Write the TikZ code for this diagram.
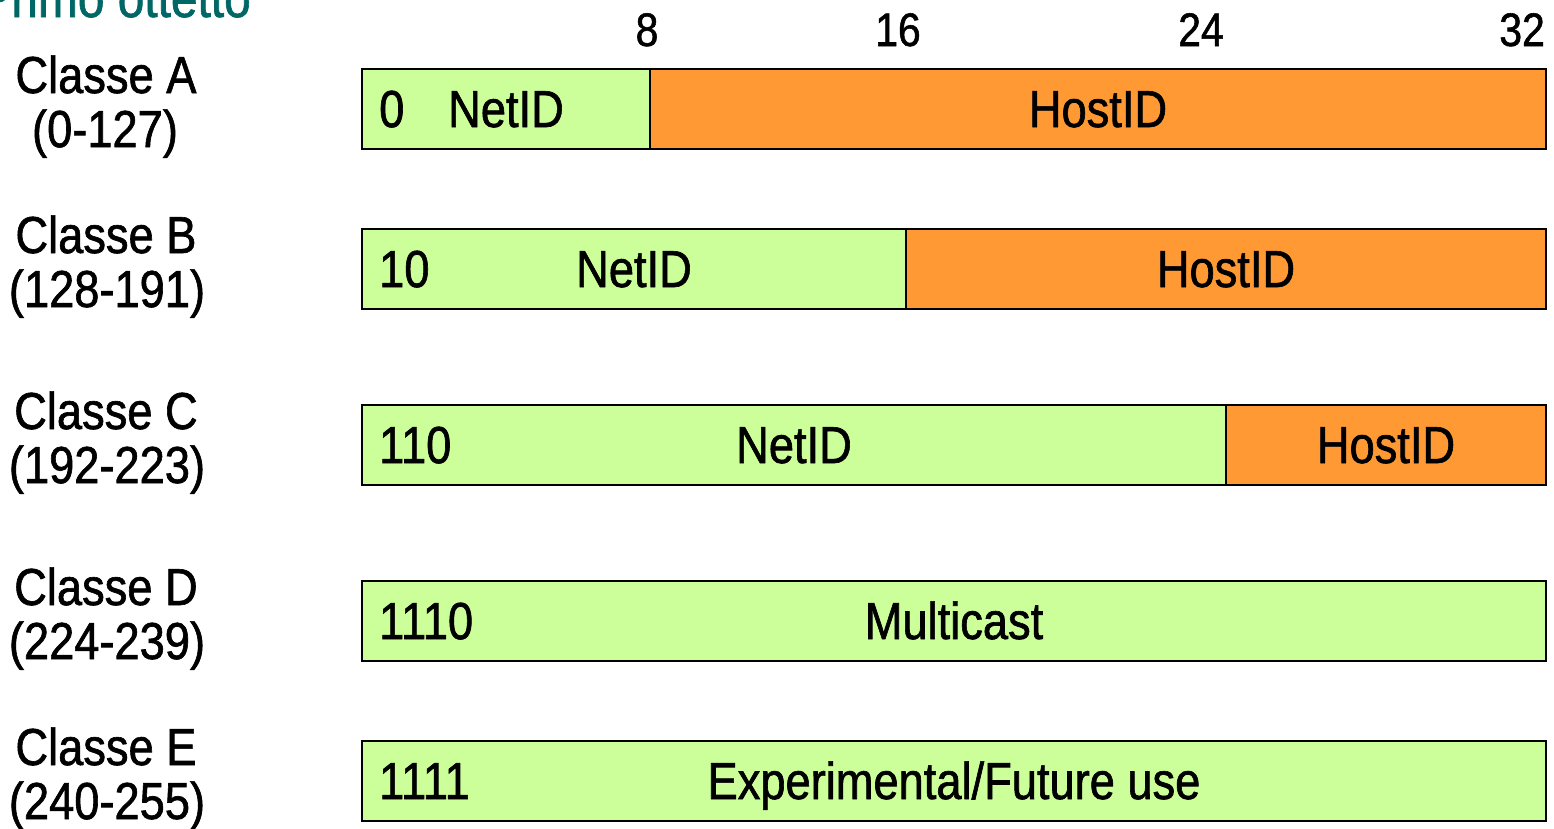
\documentclass[tikz,border=0pt]{standalone}
\usepackage{fontspec}
\setmainfont[FakeStretch=0.87,FakeBold=1.2]{Liberation Sans}
\definecolor{netgreen}{HTML}{CCFF99}
\definecolor{hostorange}{HTML}{FF9933}
\definecolor{titleteal}{HTML}{006666}
\begin{document}
\begin{tikzpicture}[x=1pt,y=-1pt,
  seg/.style={draw=black,line width=2pt,rectangle,inner sep=0pt,anchor=north west,minimum height=80pt},
  net/.style={seg,fill=netgreen},
  host/.style={seg,fill=hostorange},
  bartext/.style={font=\fontsize{52}{54}\selectfont,inner sep=0pt,anchor=base},
  lefttext/.style={bartext,anchor=base west},
  classtext/.style={font=\fontsize{52}{54}\selectfont,inner sep=0pt,anchor=base},
  bitnum/.style={font=\fontsize{47}{48}\selectfont,inner sep=0pt,anchor=base}]
\useasboundingbox (0,0) rectangle (1554,828);
% title (cut off at top, as in the reference)
\node[font=\fontsize{55}{56}\selectfont,text=titleteal,inner sep=0pt,anchor=base east] (title) at (251,17) {Primo ottetto};
% bit numbers
\node[bitnum] (n8) at (647,46) {8};
\node[bitnum] (n16) at (898,46) {16};
\node[bitnum] (n24) at (1201,46) {24};
\node[bitnum,anchor=base east] (n32) at (1545,46) {32};
% Class A
\node[net,minimum width=288pt] (a1) at (361,68) {};
\node[host,minimum width=896pt] (a2) at (649,68) {};
\node[lefttext] (ta0) at ([xshift=18pt,yshift=-18pt]a1.west) {0};
\node[bartext] (ta1) at ([yshift=-18pt]a1.center) {NetID};
\node[bartext] (ta2) at ([yshift=-18pt]a2.center) {HostID};
% Class B
\node[net,minimum width=544pt] (b1) at (361,228) {};
\node[host,minimum width=640pt] (b2) at (905,228) {};
\node[lefttext] (tb0) at ([xshift=18pt,yshift=-18pt]b1.west) {10};
\node[bartext] (tb1) at ([yshift=-18pt]b1.center) {NetID};
\node[bartext] (tb2) at ([yshift=-18pt]b2.center) {HostID};
% Class C
\node[net,minimum width=864pt] (c1) at (361,404) {};
\node[host,minimum width=320pt] (c2) at (1225,404) {};
\node[lefttext] (tc0) at ([xshift=18pt,yshift=-18pt]c1.west) {110};
\node[bartext] (tc1) at ([yshift=-18pt]c1.center) {NetID};
\node[bartext] (tc2) at ([yshift=-18pt]c2.center) {HostID};
% Class D
\node[net,minimum width=1184pt] (d1) at (361,580) {};
\node[lefttext] (td0) at ([xshift=18pt,yshift=-18pt]d1.west) {1110};
\node[bartext] (td1) at ([yshift=-18pt]d1.center) {Multicast};
% Class E
\node[net,minimum width=1184pt] (e1) at (361,740) {};
\node[lefttext] (te0) at ([xshift=18pt,yshift=-18pt]e1.west) {1111};
\node[bartext] (te1) at ([yshift=-18pt]e1.center) {Experimental/Future use};
% class labels
\node[classtext] (la1) at (106,93) {Classe A};
\node[classtext] (la2) at (105,147) {(0-127)};
\node[classtext] (lb1) at (106,253) {Classe B};
\node[classtext] (lb2) at (107,307) {(128-191)};
\node[classtext] (lc1) at (106,429) {Classe C};
\node[classtext] (lc2) at (107,483) {(192-223)};
\node[classtext] (ld1) at (106,605) {Classe D};
\node[classtext] (ld2) at (107,659) {(224-239)};
\node[classtext] (le1) at (106,765) {Classe E};
\node[classtext] (le2) at (107,819) {(240-255)};
\end{tikzpicture}
\end{document}
